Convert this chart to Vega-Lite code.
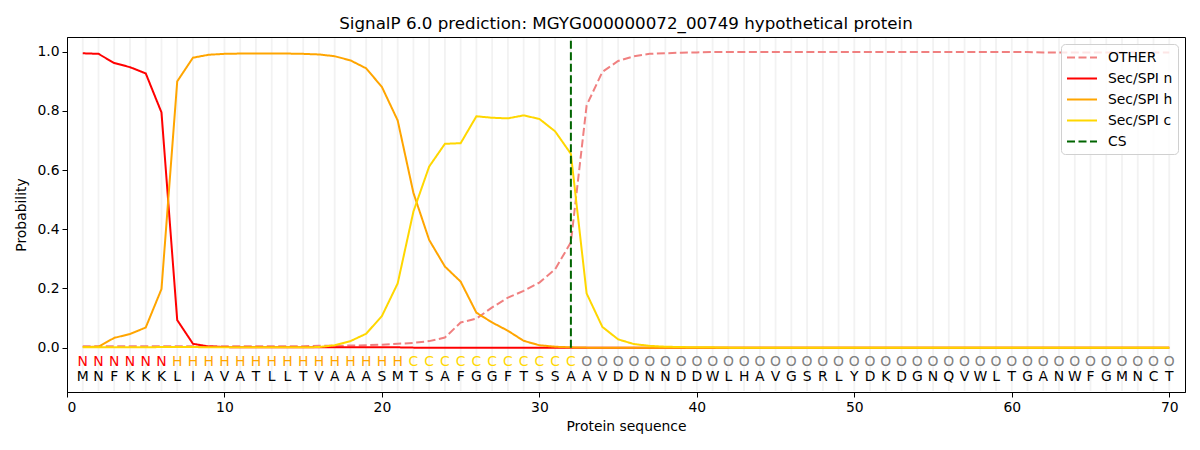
{
  "$schema": "https://vega.github.io/schema/vega-lite/v6.json",
  "autosize": {"type": "none"},
  "width": 1118,
  "height": 355,
  "padding": {"left": 67, "top": 37, "right": 15, "bottom": 58},
  "background": "white",
  "title": {
    "text": "SignalP 6.0 prediction: MGYG000000072_00749 hypothetical protein",
    "font": "DejaVu Sans",
    "fontSize": 16.7,
    "fontWeight": "normal",
    "color": "black",
    "offset": 3
  },
  "datasets": {
    "seq": [
      {"pos": 1, "aa": "M", "lab": "N", "OTHER": 0.005, "Sec/SPI n": 0.995, "Sec/SPI h": 0.002, "Sec/SPI c": 0.001},
      {"pos": 2, "aa": "N", "lab": "N", "OTHER": 0.005, "Sec/SPI n": 0.993, "Sec/SPI h": 0.003, "Sec/SPI c": 0.001},
      {"pos": 3, "aa": "F", "lab": "N", "OTHER": 0.005, "Sec/SPI n": 0.962, "Sec/SPI h": 0.033, "Sec/SPI c": 0.001},
      {"pos": 4, "aa": "K", "lab": "N", "OTHER": 0.005, "Sec/SPI n": 0.948, "Sec/SPI h": 0.046, "Sec/SPI c": 0.001},
      {"pos": 5, "aa": "K", "lab": "N", "OTHER": 0.005, "Sec/SPI n": 0.927, "Sec/SPI h": 0.068, "Sec/SPI c": 0.001},
      {"pos": 6, "aa": "K", "lab": "N", "OTHER": 0.005, "Sec/SPI n": 0.795, "Sec/SPI h": 0.198, "Sec/SPI c": 0.002},
      {"pos": 7, "aa": "L", "lab": "H", "OTHER": 0.005, "Sec/SPI n": 0.093, "Sec/SPI h": 0.9, "Sec/SPI c": 0.002},
      {"pos": 8, "aa": "I", "lab": "H", "OTHER": 0.005, "Sec/SPI n": 0.013, "Sec/SPI h": 0.98, "Sec/SPI c": 0.002},
      {"pos": 9, "aa": "A", "lab": "H", "OTHER": 0.005, "Sec/SPI n": 0.004, "Sec/SPI h": 0.99, "Sec/SPI c": 0.001},
      {"pos": 10, "aa": "V", "lab": "H", "OTHER": 0.005, "Sec/SPI n": 0.002, "Sec/SPI h": 0.993, "Sec/SPI c": 0.001},
      {"pos": 11, "aa": "A", "lab": "H", "OTHER": 0.005, "Sec/SPI n": 0.001, "Sec/SPI h": 0.994, "Sec/SPI c": 0.001},
      {"pos": 12, "aa": "T", "lab": "H", "OTHER": 0.005, "Sec/SPI n": 0.001, "Sec/SPI h": 0.994, "Sec/SPI c": 0.001},
      {"pos": 13, "aa": "L", "lab": "H", "OTHER": 0.005, "Sec/SPI n": 0.001, "Sec/SPI h": 0.994, "Sec/SPI c": 0.001},
      {"pos": 14, "aa": "L", "lab": "H", "OTHER": 0.005, "Sec/SPI n": 0.001, "Sec/SPI h": 0.994, "Sec/SPI c": 0.001},
      {"pos": 15, "aa": "T", "lab": "H", "OTHER": 0.005, "Sec/SPI n": 0.001, "Sec/SPI h": 0.993, "Sec/SPI c": 0.001},
      {"pos": 16, "aa": "V", "lab": "H", "OTHER": 0.006, "Sec/SPI n": 0.001, "Sec/SPI h": 0.991, "Sec/SPI c": 0.002},
      {"pos": 17, "aa": "A", "lab": "H", "OTHER": 0.006, "Sec/SPI n": 0.001, "Sec/SPI h": 0.985, "Sec/SPI c": 0.008},
      {"pos": 18, "aa": "A", "lab": "H", "OTHER": 0.007, "Sec/SPI n": 0.001, "Sec/SPI h": 0.971, "Sec/SPI c": 0.022},
      {"pos": 19, "aa": "A", "lab": "H", "OTHER": 0.008, "Sec/SPI n": 0.001, "Sec/SPI h": 0.944, "Sec/SPI c": 0.047},
      {"pos": 20, "aa": "S", "lab": "H", "OTHER": 0.01, "Sec/SPI n": 0.001, "Sec/SPI h": 0.881, "Sec/SPI c": 0.107},
      {"pos": 21, "aa": "M", "lab": "H", "OTHER": 0.013, "Sec/SPI n": 0.001, "Sec/SPI h": 0.768, "Sec/SPI c": 0.217},
      {"pos": 22, "aa": "T", "lab": "C", "OTHER": 0.016, "Sec/SPI n": 0.0, "Sec/SPI h": 0.523, "Sec/SPI c": 0.46},
      {"pos": 23, "aa": "S", "lab": "C", "OTHER": 0.022, "Sec/SPI n": 0.0, "Sec/SPI h": 0.364, "Sec/SPI c": 0.612},
      {"pos": 24, "aa": "A", "lab": "C", "OTHER": 0.034, "Sec/SPI n": 0.0, "Sec/SPI h": 0.274, "Sec/SPI c": 0.689},
      {"pos": 25, "aa": "F", "lab": "C", "OTHER": 0.085, "Sec/SPI n": 0.0, "Sec/SPI h": 0.223, "Sec/SPI c": 0.691},
      {"pos": 26, "aa": "G", "lab": "C", "OTHER": 0.098, "Sec/SPI n": 0.0, "Sec/SPI h": 0.118, "Sec/SPI c": 0.782},
      {"pos": 27, "aa": "G", "lab": "C", "OTHER": 0.136, "Sec/SPI n": 0.0, "Sec/SPI h": 0.085, "Sec/SPI c": 0.777},
      {"pos": 28, "aa": "F", "lab": "C", "OTHER": 0.169, "Sec/SPI n": 0.0, "Sec/SPI h": 0.057, "Sec/SPI c": 0.775},
      {"pos": 29, "aa": "T", "lab": "C", "OTHER": 0.192, "Sec/SPI n": 0.0, "Sec/SPI h": 0.023, "Sec/SPI c": 0.785},
      {"pos": 30, "aa": "S", "lab": "C", "OTHER": 0.22, "Sec/SPI n": 0.0, "Sec/SPI h": 0.008, "Sec/SPI c": 0.773},
      {"pos": 31, "aa": "S", "lab": "C", "OTHER": 0.265, "Sec/SPI n": 0.0, "Sec/SPI h": 0.003, "Sec/SPI c": 0.731},
      {"pos": 32, "aa": "A", "lab": "C", "OTHER": 0.356, "Sec/SPI n": 0.0, "Sec/SPI h": 0.001, "Sec/SPI c": 0.655},
      {"pos": 33, "aa": "A", "lab": "O", "OTHER": 0.819, "Sec/SPI n": 0.0, "Sec/SPI h": 0.0, "Sec/SPI c": 0.183},
      {"pos": 34, "aa": "V", "lab": "O", "OTHER": 0.932, "Sec/SPI n": 0.0, "Sec/SPI h": 0.0, "Sec/SPI c": 0.07},
      {"pos": 35, "aa": "D", "lab": "O", "OTHER": 0.969, "Sec/SPI n": 0.0, "Sec/SPI h": 0.0, "Sec/SPI c": 0.028},
      {"pos": 36, "aa": "D", "lab": "O", "OTHER": 0.985, "Sec/SPI n": 0.0, "Sec/SPI h": 0.0, "Sec/SPI c": 0.012},
      {"pos": 37, "aa": "N", "lab": "O", "OTHER": 0.993, "Sec/SPI n": 0.0, "Sec/SPI h": 0.0, "Sec/SPI c": 0.006},
      {"pos": 38, "aa": "N", "lab": "O", "OTHER": 0.995, "Sec/SPI n": 0.0, "Sec/SPI h": 0.0, "Sec/SPI c": 0.003},
      {"pos": 39, "aa": "D", "lab": "O", "OTHER": 0.997, "Sec/SPI n": 0.0, "Sec/SPI h": 0.0, "Sec/SPI c": 0.002},
      {"pos": 40, "aa": "D", "lab": "O", "OTHER": 0.998, "Sec/SPI n": 0.0, "Sec/SPI h": 0.0, "Sec/SPI c": 0.001},
      {"pos": 41, "aa": "W", "lab": "O", "OTHER": 0.999, "Sec/SPI n": 0.0, "Sec/SPI h": 0.0, "Sec/SPI c": 0.001},
      {"pos": 42, "aa": "L", "lab": "O", "OTHER": 0.999, "Sec/SPI n": 0.0, "Sec/SPI h": 0.0, "Sec/SPI c": 0.0},
      {"pos": 43, "aa": "H", "lab": "O", "OTHER": 0.999, "Sec/SPI n": 0.0, "Sec/SPI h": 0.0, "Sec/SPI c": 0.0},
      {"pos": 44, "aa": "A", "lab": "O", "OTHER": 0.999, "Sec/SPI n": 0.0, "Sec/SPI h": 0.0, "Sec/SPI c": 0.0},
      {"pos": 45, "aa": "V", "lab": "O", "OTHER": 0.999, "Sec/SPI n": 0.0, "Sec/SPI h": 0.0, "Sec/SPI c": 0.0},
      {"pos": 46, "aa": "G", "lab": "O", "OTHER": 0.999, "Sec/SPI n": 0.0, "Sec/SPI h": 0.0, "Sec/SPI c": 0.0},
      {"pos": 47, "aa": "S", "lab": "O", "OTHER": 0.999, "Sec/SPI n": 0.0, "Sec/SPI h": 0.0, "Sec/SPI c": 0.0},
      {"pos": 48, "aa": "R", "lab": "O", "OTHER": 0.999, "Sec/SPI n": 0.0, "Sec/SPI h": 0.0, "Sec/SPI c": 0.0},
      {"pos": 49, "aa": "L", "lab": "O", "OTHER": 0.999, "Sec/SPI n": 0.0, "Sec/SPI h": 0.0, "Sec/SPI c": 0.0},
      {"pos": 50, "aa": "Y", "lab": "O", "OTHER": 0.999, "Sec/SPI n": 0.0, "Sec/SPI h": 0.0, "Sec/SPI c": 0.0},
      {"pos": 51, "aa": "D", "lab": "O", "OTHER": 0.999, "Sec/SPI n": 0.0, "Sec/SPI h": 0.0, "Sec/SPI c": 0.0},
      {"pos": 52, "aa": "K", "lab": "O", "OTHER": 0.999, "Sec/SPI n": 0.0, "Sec/SPI h": 0.0, "Sec/SPI c": 0.0},
      {"pos": 53, "aa": "D", "lab": "O", "OTHER": 0.999, "Sec/SPI n": 0.0, "Sec/SPI h": 0.0, "Sec/SPI c": 0.0},
      {"pos": 54, "aa": "G", "lab": "O", "OTHER": 0.999, "Sec/SPI n": 0.0, "Sec/SPI h": 0.0, "Sec/SPI c": 0.0},
      {"pos": 55, "aa": "N", "lab": "O", "OTHER": 0.999, "Sec/SPI n": 0.0, "Sec/SPI h": 0.0, "Sec/SPI c": 0.0},
      {"pos": 56, "aa": "Q", "lab": "O", "OTHER": 0.999, "Sec/SPI n": 0.0, "Sec/SPI h": 0.0, "Sec/SPI c": 0.0},
      {"pos": 57, "aa": "V", "lab": "O", "OTHER": 0.999, "Sec/SPI n": 0.0, "Sec/SPI h": 0.0, "Sec/SPI c": 0.0},
      {"pos": 58, "aa": "W", "lab": "O", "OTHER": 0.999, "Sec/SPI n": 0.0, "Sec/SPI h": 0.0, "Sec/SPI c": 0.0},
      {"pos": 59, "aa": "L", "lab": "O", "OTHER": 0.999, "Sec/SPI n": 0.0, "Sec/SPI h": 0.0, "Sec/SPI c": 0.0},
      {"pos": 60, "aa": "T", "lab": "O", "OTHER": 0.999, "Sec/SPI n": 0.0, "Sec/SPI h": 0.0, "Sec/SPI c": 0.0},
      {"pos": 61, "aa": "G", "lab": "O", "OTHER": 0.999, "Sec/SPI n": 0.0, "Sec/SPI h": 0.0, "Sec/SPI c": 0.0},
      {"pos": 62, "aa": "A", "lab": "O", "OTHER": 0.998, "Sec/SPI n": 0.0, "Sec/SPI h": 0.0, "Sec/SPI c": 0.0},
      {"pos": 63, "aa": "N", "lab": "O", "OTHER": 0.998, "Sec/SPI n": 0.0, "Sec/SPI h": 0.0, "Sec/SPI c": 0.0},
      {"pos": 64, "aa": "W", "lab": "O", "OTHER": 0.998, "Sec/SPI n": 0.0, "Sec/SPI h": 0.0, "Sec/SPI c": 0.0},
      {"pos": 65, "aa": "F", "lab": "O", "OTHER": 0.998, "Sec/SPI n": 0.0, "Sec/SPI h": 0.0, "Sec/SPI c": 0.0},
      {"pos": 66, "aa": "G", "lab": "O", "OTHER": 0.998, "Sec/SPI n": 0.0, "Sec/SPI h": 0.0, "Sec/SPI c": 0.0},
      {"pos": 67, "aa": "M", "lab": "O", "OTHER": 0.998, "Sec/SPI n": 0.0, "Sec/SPI h": 0.0, "Sec/SPI c": 0.0},
      {"pos": 68, "aa": "N", "lab": "O", "OTHER": 0.998, "Sec/SPI n": 0.0, "Sec/SPI h": 0.0, "Sec/SPI c": 0.0},
      {"pos": 69, "aa": "C", "lab": "O", "OTHER": 0.998, "Sec/SPI n": 0.0, "Sec/SPI h": 0.0, "Sec/SPI c": 0.0},
      {"pos": 70, "aa": "T", "lab": "O", "OTHER": 0.998, "Sec/SPI n": 0.0, "Sec/SPI h": 0.0, "Sec/SPI c": 0.0}
    ],
    "cs": [{"pos": 32, "key": "CS"}]
  },
  "layer": [
    {
      "data": {"name": "seq"},
      "mark": {"type": "rule", "color": "#f2f2f2", "strokeWidth": 1.8},
      "encoding": {
        "x": {"field": "pos", "type": "quantitative", "scale": {"domain": [0, 71], "nice": false, "zero": false}},
        "y": {"datum": -0.147},
        "y2": {"datum": 1.046}
      }
    },
    {
      "data": {"name": "seq"},
      "transform": [{"fold": ["OTHER", "Sec/SPI n", "Sec/SPI h", "Sec/SPI c"], "as": ["key", "prob"]}],
      "mark": {"type": "line", "strokeWidth": 2},
      "encoding": {
        "x": {"field": "pos", "type": "quantitative", "scale": {"domain": [0, 71], "nice": false, "zero": false},
              "axis": {"title": "Protein sequence", "values": [0, 10, 20, 30, 40, 50, 60, 70]}},
        "y": {"field": "prob", "type": "quantitative", "scale": {"domain": [-0.15, 1.05], "nice": false, "zero": false},
              "axis": {"title": "Probability", "values": [0, 0.2, 0.4, 0.6, 0.8, 1.0], "format": ".1f"}},
        "color": {"field": "key", "type": "nominal",
                  "scale": {"domain": ["OTHER", "Sec/SPI n", "Sec/SPI h", "Sec/SPI c", "CS"],
                            "range": ["#f08080", "#ff0000", "#ffa500", "#ffd700", "#006400"]},
                  "legend": {"title": null}},
        "strokeDash": {"field": "key", "type": "nominal",
                       "scale": {"domain": ["OTHER", "Sec/SPI n", "Sec/SPI h", "Sec/SPI c", "CS"],
                                 "range": [[8, 3.5], [1, 0], [1, 0], [1, 0], [8, 3.5]]},
                       "legend": {"title": null}}
      }
    },
    {
      "data": {"name": "cs"},
      "mark": {"type": "rule", "strokeWidth": 2},
      "encoding": {
        "x": {"field": "pos", "type": "quantitative"},
        "y": {"datum": 0},
        "y2": {"datum": 1.05},
        "color": {"field": "key", "type": "nominal"},
        "strokeDash": {"field": "key", "type": "nominal"}
      }
    },
    {
      "data": {"name": "seq"},
      "transform": [{"filter": "datum.lab == 'N'"}],
      "mark": {"type": "text", "color": "#ff0000", "font": "DejaVu Sans", "fontSize": 13.9, "baseline": "middle"},
      "encoding": {"x": {"field": "pos", "type": "quantitative"}, "y": {"datum": -0.047}, "text": {"field": "lab"}}
    },
    {
      "data": {"name": "seq"},
      "transform": [{"filter": "datum.lab == 'H'"}],
      "mark": {"type": "text", "color": "#ffa500", "font": "DejaVu Sans", "fontSize": 13.9, "baseline": "middle"},
      "encoding": {"x": {"field": "pos", "type": "quantitative"}, "y": {"datum": -0.047}, "text": {"field": "lab"}}
    },
    {
      "data": {"name": "seq"},
      "transform": [{"filter": "datum.lab == 'C'"}],
      "mark": {"type": "text", "color": "#ffd700", "font": "DejaVu Sans", "fontSize": 13.9, "baseline": "middle"},
      "encoding": {"x": {"field": "pos", "type": "quantitative"}, "y": {"datum": -0.047}, "text": {"field": "lab"}}
    },
    {
      "data": {"name": "seq"},
      "transform": [{"filter": "datum.lab == 'O'"}],
      "mark": {"type": "text", "color": "#808080", "font": "DejaVu Sans", "fontSize": 13.9, "baseline": "middle"},
      "encoding": {"x": {"field": "pos", "type": "quantitative"}, "y": {"datum": -0.047}, "text": {"field": "lab"}}
    },
    {
      "data": {"name": "seq"},
      "mark": {"type": "text", "color": "black", "font": "DejaVu Sans", "fontSize": 13.9, "baseline": "middle"},
      "encoding": {"x": {"field": "pos", "type": "quantitative"}, "y": {"datum": -0.098}, "text": {"field": "aa"}}
    }
  ],
  "config": {
    "view": {"stroke": "black", "strokeWidth": 1},
    "axis": {
      "grid": false,
      "domainColor": "black",
      "tickColor": "black",
      "tickSize": 5,
      "labelColor": "black",
      "labelFont": "DejaVu Sans",
      "labelFontSize": 13.9,
      "titleFont": "DejaVu Sans",
      "titleFontSize": 13.9,
      "titleFontWeight": "normal",
      "titleColor": "black",
      "labelPadding": 3
    },
    "axisX": {"titlePadding": 6},
    "axisY": {"titlePadding": 8},
    "legend": {
      "orient": "top-right",
      "offset": 7,
      "padding": 5,
      "strokeColor": "#d0d0d0",
      "cornerRadius": 4,
      "fillColor": "rgba(255,255,255,0.8)",
      "labelFont": "DejaVu Sans",
      "labelFontSize": 13.9,
      "labelColor": "black",
      "symbolType": "M-1,0H3",
      "symbolStrokeWidth": 2,
      "symbolSize": 225,
      "rowPadding": 5,
      "labelOffset": 25
    }
  }
}
